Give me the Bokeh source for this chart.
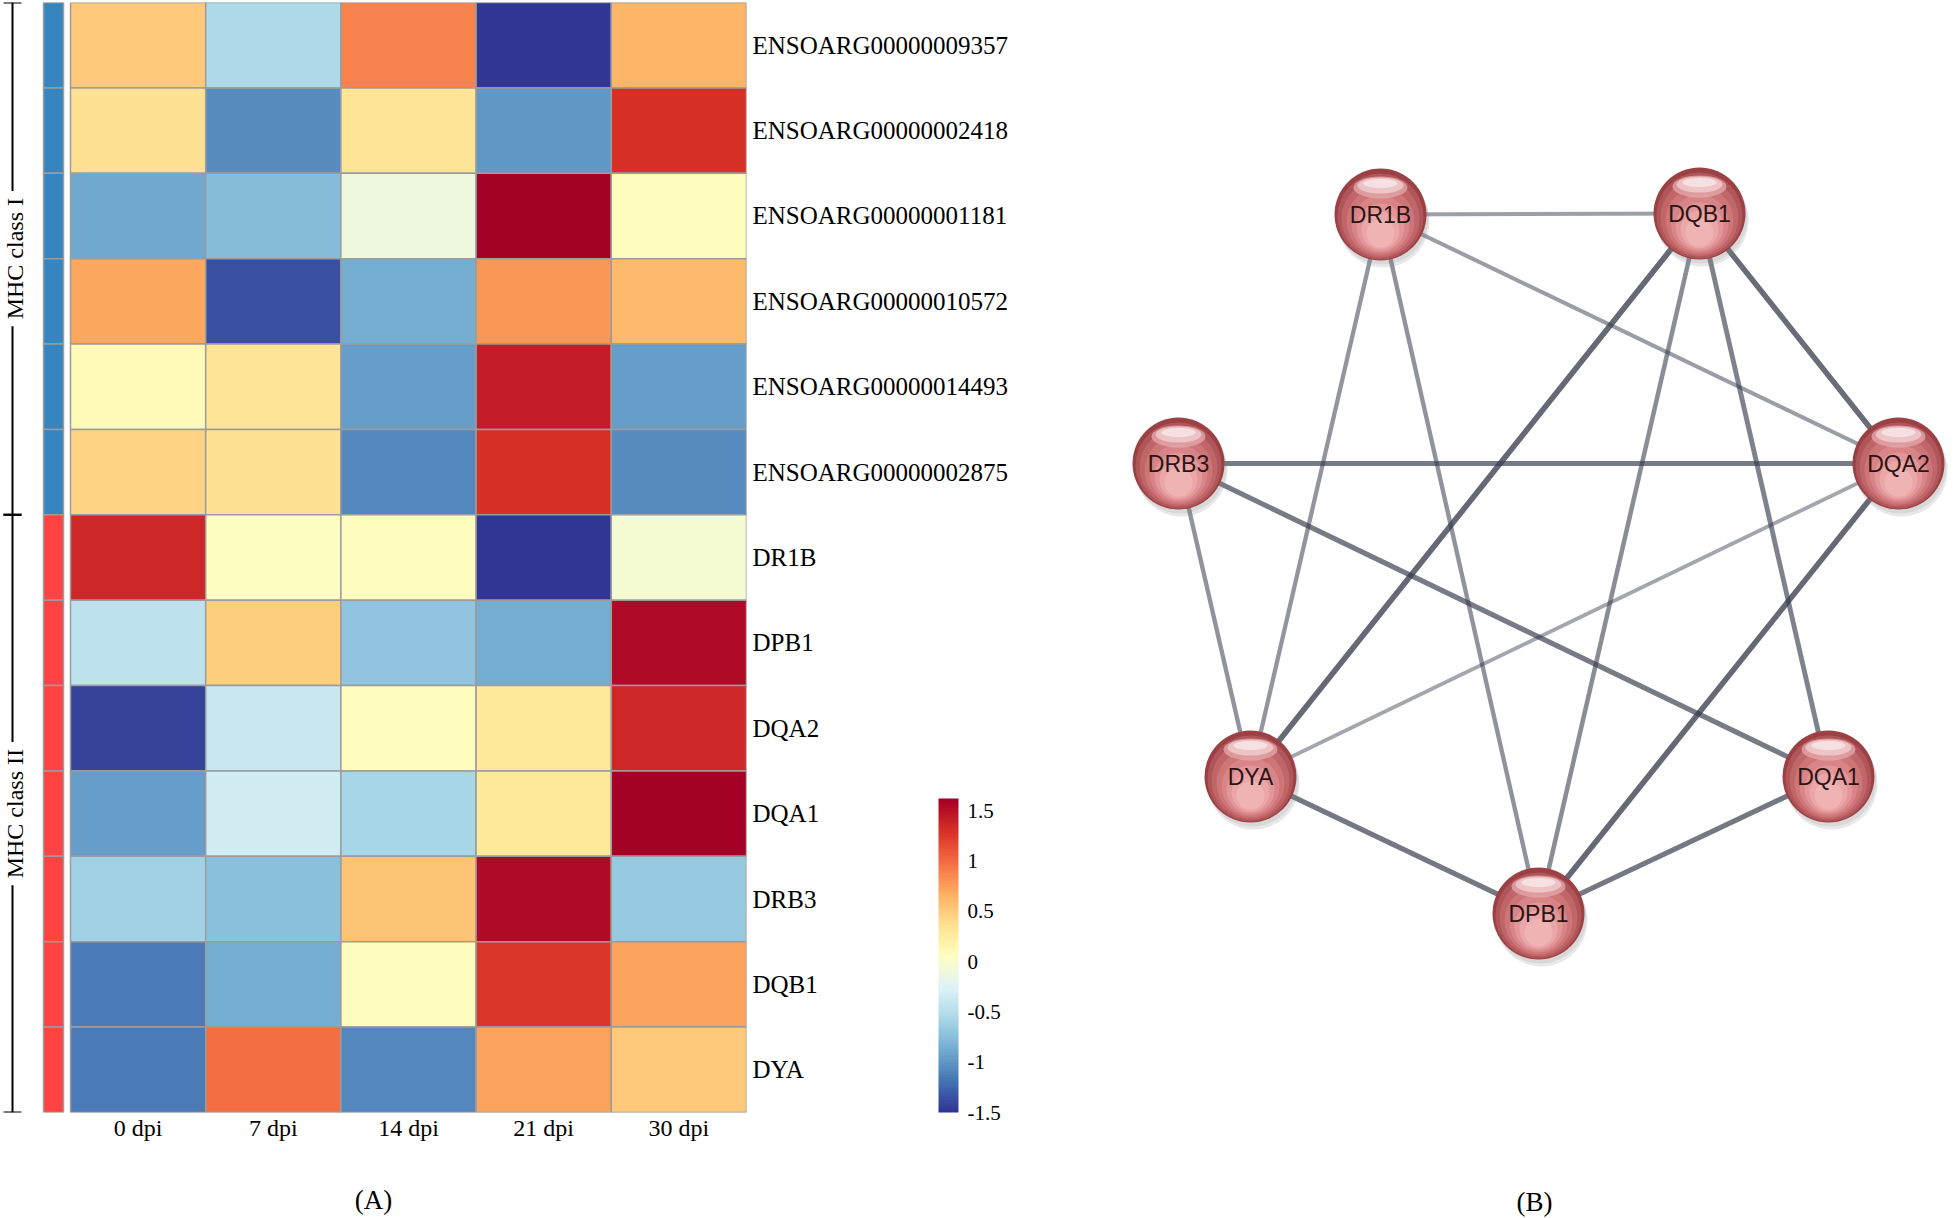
import math
import numpy as np
from bokeh.plotting import figure
from bokeh.models import ColumnDataSource, LinearColorMapper, ColorBar, FixedTicker, Label, Range1d
from bokeh.layouts import row
from bokeh.embed import file_html
from bokeh.resources import INLINE
from bokeh.core.properties import value
from bokeh.palettes import RdYlBu

# ---------------- data ----------------
genes = ["ENSOARG00000009357", "ENSOARG00000002418", "ENSOARG00000001181",
         "ENSOARG00000010572", "ENSOARG00000014493", "ENSOARG00000002875",
         "DR1B", "DPB1", "DQA2", "DQA1", "DRB3", "DQB1", "DYA"]
gene_class = ["MHC class I"] * 6 + ["MHC class II"] * 7
time_points = ["0 dpi", "7 dpi", "14 dpi", "21 dpi", "30 dpi"]

dpi_0 = [0.50, 0.35, -0.88, 0.70, 0.12, 0.45, 1.37, -0.45, -1.42, -0.96, -0.62, -1.13, -1.13]
dpi_7 = [-0.56, -1.05, -0.77, -1.35, 0.33, 0.37, 0.05, 0.47, -0.38, -0.33, -0.75, -0.87, 0.98]
dpi_14 = [0.90, 0.33, -0.10, -0.85, -0.96, -1.08, 0.06, -0.72, 0.08, -0.58, 0.55, 0.06, -1.08]
dpi_21 = [-1.50, -1.00, 1.62, 0.78, 1.43, 1.28, -1.50, -0.85, 0.30, 0.28, 1.55, 1.25, 0.72]
dpi_30 = [0.65, 1.30, 0.08, 0.62, -0.96, -1.05, -0.05, 1.55, 1.37, 1.62, -0.68, 0.72, 0.50]

class_colors = {"MHC class I": "#3585C1", "MHC class II": "#FF4343"}
colorbar_ticks = [-1.5, -1, -0.5, 0, 0.5, 1, 1.5]
scale_low, scale_high = -1.5, 1.62

nodes = ["DR1B", "DQB1", "DRB3", "DQA2", "DYA", "DQA1", "DPB1"]
node_x = [1380, 1699, 1178, 1898, 1250, 1828, 1538]
node_y = [212, 211, 461, 461, 774, 774, 911]

edge_from = ["DR1B", "DR1B", "DR1B", "DR1B", "DQB1", "DQB1", "DQB1", "DQB1",
             "DRB3", "DRB3", "DRB3", "DQA2", "DQA2", "DYA", "DQA1"]
edge_to = ["DQB1", "DQA2", "DYA", "DPB1", "DYA", "DPB1", "DQA1", "DQA2",
           "DQA2", "DQA1", "DYA", "DYA", "DPB1", "DPB1", "DPB1"]
edge_score = [0.50, 0.52, 0.58, 0.60, 0.95, 0.65, 0.75, 0.92,
              0.80, 0.80, 0.60, 0.45, 0.95, 0.82, 0.82]

panel_labels = ["(A)", "(B)"]

# ---------------- palette (blue -> red) ----------------
base = list(RdYlBu[11])
if base[0].lower() != "#313695":
    base = base[::-1]
base_rgb = np.array([[int(c[i:i + 2], 16) for i in (1, 3, 5)] for c in base], dtype=float)
pos = np.linspace(0, 1, len(base))
tt = np.linspace(0, 1, 100)
palette = ["#%02x%02x%02x" % tuple(int(round(np.interp(t, pos, base_rgb[:, k]))) for k in range(3)) for t in tt]
mapper = LinearColorMapper(palette=palette, low=scale_low, high=scale_high)

SERIF = "Liberation Serif"

# ---------------- heatmap ----------------
col_px = 135.2
left_px = 70
n_rows = len(genes)
n_cols = len(time_points)
frame_w = int(round(left_px + col_px * n_cols))   # 746
heat = figure(frame_width=frame_w, frame_height=1110, output_backend="svg", toolbar_location=None,
              x_range=Range1d(-left_px / col_px, n_cols), y_range=Range1d(0, n_rows),
              y_axis_location="right", x_axis_location="below",
              min_border_left=0, min_border_right=1030 - frame_w,
              min_border_top=2, min_border_bottom=0)
heat.grid.visible = False
heat.outline_line_color = None

columns = [dpi_0, dpi_7, dpi_14, dpi_21, dpi_30]
cx, cy, cv = [], [], []
for j, col in enumerate(columns):
    for i, v in enumerate(col):
        cx.append(j + 0.5)
        cy.append(n_rows - i - 0.5)
        cv.append(v)
src = ColumnDataSource(dict(x=cx, y=cy, v=cv))
heat.rect(x="x", y="y", width=1, height=1, source=src,
          fill_color={"field": "v", "transform": mapper},
          line_color="#9C9C9C", line_width=1.5)

# annotation bar
ann_x = (53 - left_px) / col_px
ann_w = 20 / col_px
heat.rect(x=[ann_x] * n_rows, y=[n_rows - i - 0.5 for i in range(n_rows)], width=ann_w, height=1,
          fill_color=[class_colors[c] for c in gene_class], line_color="#9C9C9C", line_width=1.5)

# brackets
br_x = (12 - left_px) / col_px
tick_half = 9 / col_px
groups = []
for cname in ["MHC class I", "MHC class II"]:
    idx = [i for i, c in enumerate(gene_class) if c == cname]
    top = n_rows - idx[0]
    bot = n_rows - idx[-1] - 1
    groups.append((cname, top, bot))
for cname, top, bot in groups:
    heat.segment(x0=[br_x], y0=[top], x1=[br_x], y1=[bot], line_color="black", line_width=2)
    heat.segment(x0=[br_x - tick_half, br_x - tick_half], y0=[top, bot],
                 x1=[br_x + tick_half, br_x + tick_half], y1=[top, bot], line_color="black", line_width=2)
    heat.add_layout(Label(x=br_x + 2 / col_px, y=(top + bot) / 2, text=cname, angle=math.pi / 2,
                          text_align="center", text_baseline="middle",
                          text_font=SERIF, text_font_size="24px", text_color="black",
                          background_fill_color="white", padding=7))

# axes
heat.xaxis.ticker = FixedTicker(ticks=[j + 0.5 for j in range(n_cols)])
heat.xaxis.major_label_overrides = {j + 0.5: t for j, t in enumerate(time_points)}
heat.xaxis.major_label_text_font = SERIF
heat.xaxis.major_label_text_font_size = "24px"
heat.xaxis.major_label_text_color = "black"
heat.xaxis.major_label_standoff = -4
heat.xaxis.axis_label = panel_labels[0]
heat.xaxis.axis_label_text_font = SERIF
heat.xaxis.axis_label_text_font_style = "normal"
heat.xaxis.axis_label_text_font_size = "27px"
heat.xaxis.axis_label_text_color = "black"
heat.xaxis.axis_label_standoff = 41
heat.xaxis.axis_line_color = None
heat.xaxis.major_tick_line_color = None
heat.xaxis.minor_tick_line_color = None

heat.yaxis.ticker = FixedTicker(ticks=[n_rows - i - 0.5 for i in range(n_rows)])
heat.yaxis.major_label_overrides = {n_rows - i - 0.5: g for i, g in enumerate(genes)}
heat.yaxis.major_label_text_font = SERIF
heat.yaxis.major_label_text_font_size = "25px"
heat.yaxis.major_label_text_color = "black"
heat.yaxis.major_label_standoff = 0
heat.yaxis.axis_line_color = None
heat.yaxis.major_tick_line_color = None
heat.yaxis.minor_tick_line_color = None

cb = ColorBar(color_mapper=mapper, location=(938, 0), width=20, height=314, padding=0,
              ticker=FixedTicker(ticks=colorbar_ticks),
              major_label_overrides={t: ("%g" % t) for t in colorbar_ticks},
              major_label_text_font=SERIF, major_label_text_font_size="21px",
              major_label_text_color="black",
              label_standoff=9, major_tick_line_color=None, minor_tick_line_color=None,
              bar_line_color=None, background_fill_alpha=0, border_line_color=None)
heat.add_layout(cb, "center")

# ---------------- network ----------------
net = figure(frame_width=930, frame_height=1218, output_backend="svg", toolbar_location=None,
             x_range=Range1d(1030, 1960), y_range=Range1d(1218, 0),
             x_axis_location=None, y_axis_location=None,
             min_border_left=0, min_border_right=0, min_border_top=0, min_border_bottom=0)
net.grid.visible = False
net.outline_line_color = None

pos_map = {n: (x, y) for n, x, y in zip(nodes, node_x, node_y)}
esrc = ColumnDataSource(dict(
    xs=[[pos_map[a][0], pos_map[b][0]] for a, b in zip(edge_from, edge_to)],
    ys=[[pos_map[a][1], pos_map[b][1]] for a, b in zip(edge_from, edge_to)],
    alpha=[0.18 + 0.62 * s for s in edge_score],
    width=[2.2 + 3.6 * s for s in edge_score],
))
net.multi_line(xs="xs", ys="ys", source=esrc, line_color="#353C4C", line_alpha="alpha", line_width="width")

R = 46
# soft shadow
net.circle(x=[x + 3 for x in node_x], y=[y + 7 for y in node_y], radius=R, fill_color="#808080",
           fill_alpha=0.18, line_color=None)
net.circle(x=[x + 2 for x in node_x], y=[y + 4 for y in node_y], radius=R, fill_color="#808080",
           fill_alpha=0.15, line_color=None)
# sphere layers: dark rim -> lighter lower body
layer_cols = ["#9C4044", "#B0565A", "#C06568", "#CD7577", "#D98587", "#E39697", "#EBA6A7", "#F0B3B4"]
layer_r = [R, R - 3, R - 7, R - 12, R - 17, R - 22, R - 27, R - 32]
layer_dy = [0, 2, 4, 7, 10, 13, 16, 19]
for c, r, dy in zip(layer_cols, layer_r, layer_dy):
    net.circle(x=node_x, y=[y + dy for y in node_y], radius=r, fill_color=c, line_color=None)
# gloss highlight
net.ellipse(x=node_x, y=[y - 27 for y in node_y], width=54, height=22, width_units="screen", height_units="screen",
            fill_color="#E2A6A8", fill_alpha=0.8, line_color=None)
net.ellipse(x=node_x, y=[y - 29 for y in node_y], width=46, height=16, width_units="screen", height_units="screen",
            fill_color="#F3D2D3", fill_alpha=0.75, line_color=None)
net.ellipse(x=node_x, y=[y - 31 for y in node_y], width=34, height=9, width_units="screen", height_units="screen",
            fill_color="white", fill_alpha=0.5, line_color=None)

net.text(x=node_x, y=node_y, text=nodes, text_align="center", text_baseline="middle",
         text_font=value("Liberation Sans"), text_font_size="23px", text_color="#2A1414")

# panel label (B), aligned with the heatmap's axis label
net.text(x=[1534], y=[1199], text=[panel_labels[1]], text_align="center", text_baseline="middle",
         text_font=value(SERIF), text_font_size="27px", text_color="black")

layout = row(heat, net)
open("out.html", "w").write(file_html(layout, INLINE))
